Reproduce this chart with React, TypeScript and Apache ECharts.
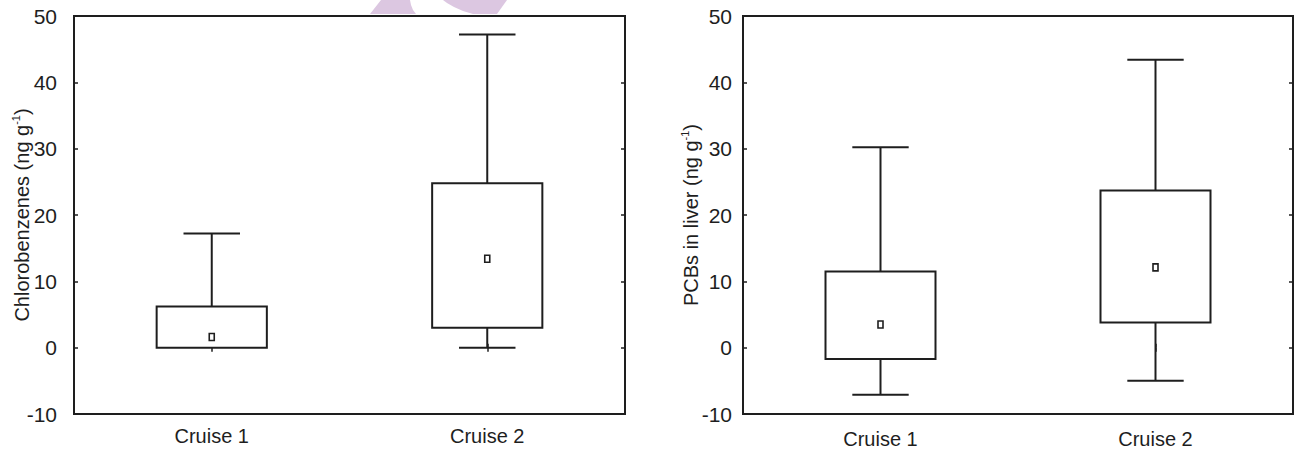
import React, { useEffect, useRef } from 'react';
import * as echarts from 'echarts';

const categories = ['Cruise 1', 'Cruise 2'];
const yMin = -10;
const yMax = 50;
const yStep = 10;

// Chlorobenzenes (left panel)
const chloroLow = [0, 0];
const chloroQ1 = [0, 3.0];
const chloroQ3 = [6.2, 24.8];
const chloroHigh = [17.2, 47.2];
const chloroMean = [1.6, 13.4];

// PCBs in liver (right panel)
const pcbLow = [-7.1, -5.0];
const pcbQ1 = [-1.7, 3.8];
const pcbQ3 = [11.5, 23.7];
const pcbHigh = [30.2, 43.4];
const pcbMean = [3.5, 12.1];

const FONT = "'Liberation Sans Narrow', 'Arial Narrow', 'Liberation Sans', Arial, sans-serif";
const INK = '#1e1e1e';

function build(low: number[], q1: number[], q3: number[], high: number[], mean: number[]) {
  return categories.map((_, i) => [i, low[i], q1[i], q3[i], high[i], mean[i]]);
}

function renderBox(params: any, api: any) {
  const x = api.value(0);
  const pLow = api.coord([x, api.value(1)]);
  const pQ1 = api.coord([x, api.value(2)]);
  const pQ3 = api.coord([x, api.value(3)]);
  const pHigh = api.coord([x, api.value(4)]);
  const pMean = api.coord([x, api.value(5)]);
  const band = api.size([1, 0])[0];
  const bw = band * 0.4;
  const cw = band * 0.205;
  const cx = pLow[0];
  const ls = { stroke: INK, lineWidth: 2, fill: 'none' };
  const children: any[] = [
    { type: 'line', shape: { x1: cx, y1: pHigh[1], x2: cx, y2: pQ3[1] }, style: ls },
    { type: 'line', shape: { x1: cx - cw / 2, y1: pHigh[1], x2: cx + cw / 2, y2: pHigh[1] }, style: ls },
  ];
  if (pLow[1] - pQ1[1] > 0.5) {
    children.push(
      { type: 'line', shape: { x1: cx, y1: pQ1[1], x2: cx, y2: pLow[1] }, style: ls },
      { type: 'line', shape: { x1: cx - cw / 2, y1: pLow[1], x2: cx + cw / 2, y2: pLow[1] }, style: ls },
    );
  }
  children.push(
    {
      type: 'rect',
      shape: { x: cx - bw / 2, y: pQ3[1], width: bw, height: pQ1[1] - pQ3[1] },
      style: { stroke: INK, lineWidth: 2, fill: '#ffffff' },
    },
    {
      type: 'rect',
      shape: { x: cx - 2.5, y: pMean[1] - 3.5, width: 5, height: 7 },
      style: { stroke: INK, lineWidth: 1.6, fill: '#ffffff' },
    },
  );
  return { type: 'group', children };
}

function axesFor(gridIndex: number, labelMargin: number, xMargin: number, name: string, nameGap: number) {
  const tick = { show: true, inside: true, length: 4, lineStyle: { color: INK, width: 1.5 } };
  const xBottom = {
    type: 'category', gridIndex, data: categories, boundaryGap: true, position: 'bottom',
    axisLine: { show: false }, axisTick: { ...tick, alignWithLabel: true },
    axisLabel: { fontFamily: FONT, fontSize: 20, color: INK, margin: xMargin },
    splitLine: { show: false },
  };
  const xTop = {
    type: 'category', gridIndex, data: categories, boundaryGap: true, position: 'top',
    axisLine: { show: false }, axisTick: { ...tick, alignWithLabel: true },
    axisLabel: { show: false }, splitLine: { show: false },
  };
  const yLeft = {
    type: 'value', gridIndex, min: yMin, max: yMax, interval: yStep, position: 'left',
    axisLine: { show: false }, axisTick: tick, splitLine: { show: false },
    axisLabel: { fontFamily: FONT, fontSize: 21, color: INK, margin: labelMargin },
    name, nameLocation: 'middle', nameGap, nameRotate: 90, nameMoveOverlap: false,
    nameTextStyle: {
      fontFamily: FONT, fontSize: 20, color: INK,
      rich: {
        a: { fontFamily: FONT, fontSize: 20, color: INK, lineHeight: 24 },
        b: { fontFamily: FONT, fontSize: 11, color: INK, lineHeight: 11, verticalAlign: 'top' },
      },
    },
  };
  const yRight = {
    type: 'value', gridIndex, min: yMin, max: yMax, interval: yStep, position: 'right',
    axisLine: { show: false }, axisTick: tick, splitLine: { show: false },
    axisLabel: { show: false },
  };
  return { x: [xBottom, xTop], y: [yLeft, yRight] };
}

export default function App() {
  const ref = useRef<HTMLDivElement>(null);
  useEffect(() => {
    if (!ref.current) return;
    const chart = echarts.init(ref.current, null, { renderer: 'svg' });
    const a = axesFor(0, 17, 12, '{a|Chlorobenzenes (ng g}{b|-1}{a|)}', 40);
    const b = axesFor(1, 11, 15, '{a|PCBs in liver (ng g}{b|-1}{a|)}', 40);
    const gridStyle = { show: true, borderColor: INK, borderWidth: 2, backgroundColor: 'transparent' };
    chart.setOption({
      animation: false,
      backgroundColor: '#ffffff',
      grid: [
        { left: 74, top: 16, width: 551, height: 398, ...gridStyle },
        { left: 743, top: 16, width: 550, height: 398, ...gridStyle },
      ],
      xAxis: [...a.x, ...b.x],
      yAxis: [...a.y, ...b.y],
      graphic: [
        {
          type: 'polygon', z: -1, silent: true,
          shape: { points: [[370, 14], [381, 0], [410, 0], [411, 5], [413, 10], [416, 14]] },
          style: { fill: '#dcc7e1' },
        },
        {
          type: 'polygon', z: -1, silent: true,
          shape: { points: [[443, 0], [507, 0], [497, 14], [473, 14], [463, 11], [454, 7], [447, 3]] },
          style: { fill: '#dcc7e1' },
        },
      ],
      series: [
        {
          type: 'custom', xAxisIndex: 0, yAxisIndex: 0,
          data: build(chloroLow, chloroQ1, chloroQ3, chloroHigh, chloroMean),
          encode: { x: 0, y: [1, 2, 3, 4, 5] },
          renderItem: renderBox,
        },
        {
          type: 'custom', xAxisIndex: 2, yAxisIndex: 2,
          data: build(pcbLow, pcbQ1, pcbQ3, pcbHigh, pcbMean),
          encode: { x: 0, y: [1, 2, 3, 4, 5] },
          renderItem: renderBox,
        },
      ],
    });
    return () => chart.dispose();
  }, []);
  return <div ref={ref} style={{ position: 'absolute', left: 0, top: 0, width: 1294, height: 451 }} />;
}
